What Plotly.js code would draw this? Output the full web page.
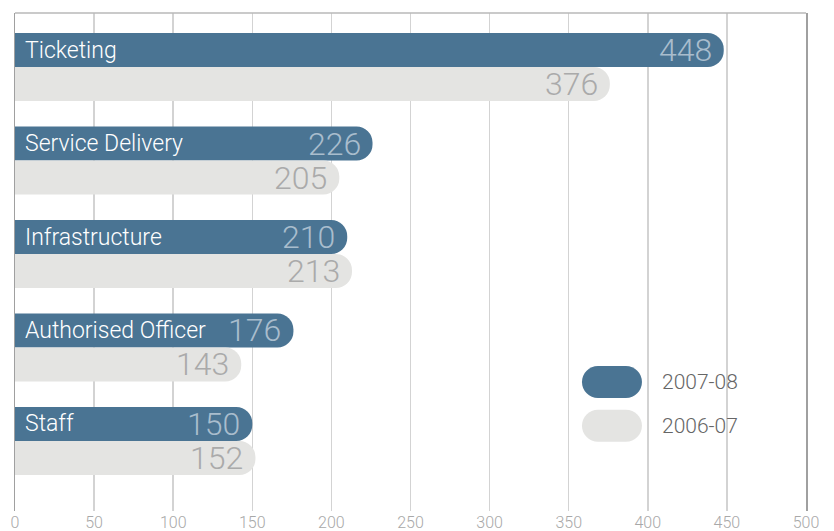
<!DOCTYPE html>
<html>
<head>
<meta charset="utf-8">
<script src="https://cdn.plot.ly/plotly-3.0.1.min.js"></script>
<style>
  html, body { margin: 0; padding: 0; background: #fff; }
  #chart { width: 834px; height: 531px; }
</style>
</head>
<body>
<div id="chart"></div>
<script>
const categories = ['Ticketing', 'Service Delivery', 'Infrastructure', 'Authorised Officer', 'Staff'];
const values0708 = [448, 226, 210, 176, 150];
const values0607 = [376, 205, 213, 143, 152];
const seriesNames = ['2007-08', '2006-07'];
const tickVals = [0, 50, 100, 150, 200, 250, 300, 350, 400, 450, 500];

const DARK = '#4a7493';
const LIGHT = '#e4e4e2';
const FONT = 'Roboto, "DejaVu Sans", sans-serif';

const traces = [
  {
    type: 'bar', orientation: 'h', name: seriesNames[0],
    y: categories, x: values0708,
    marker: { color: DARK, cornerradius: 17, line: { width: 0 } },
    hoverinfo: 'x+name',
  },
  {
    type: 'bar', orientation: 'h', name: seriesNames[1],
    y: categories, x: values0607,
    marker: { color: LIGHT, cornerradius: 17, line: { width: 0 } },
    hoverinfo: 'x+name',
  },
];

// category names sit at the left end of the upper (2007-08) bar
const nameLabels = categories.map(c => ({
  x: 0, y: c, xref: 'x', yref: 'y',
  text: c, showarrow: false,
  xanchor: 'left', yanchor: 'middle', xshift: 8, yshift: 17,
  font: { family: FONT, size: 23, weight: 300, color: '#ffffff' },
}));

// value labels at the rounded end of each bar
const valueLabel = (v, c, shift, color) => ({
  x: v, y: c, xref: 'x', yref: 'y',
  text: String(v), showarrow: false,
  xanchor: 'right', yanchor: 'middle', xshift: -10, yshift: shift,
  font: { family: FONT, size: 32, weight: 300, color: color },
});
const valueLabels = [
  ...categories.map((c, i) => valueLabel(values0708[i], c, 17, '#a9bdcd')),
  ...categories.map((c, i) => valueLabel(values0607[i], c, -17, '#aaaaaa')),
];

// custom pill-shaped legend
const pill = 'M -14,-16 L 14,-16 C 22.8,-16 30,-8.8 30,0 C 30,8.8 22.8,16 14,16 ' +
  'L -14,16 C -22.8,16 -30,8.8 -30,0 C -30,-8.8 -22.8,-16 -14,-16 Z';
const legendRows = [
  { name: seriesNames[0], color: DARK, y: 0.259 },
  { name: seriesNames[1], color: LIGHT, y: 0.171 },
];
const legendShapes = legendRows.map(r => ({
  type: 'path', path: pill,
  xref: 'paper', yref: 'paper', xsizemode: 'pixel', ysizemode: 'pixel',
  xanchor: 0.7547, yanchor: r.y,
  fillcolor: r.color, line: { width: 0 }, layer: 'above',
}));
const legendText = legendRows.map(r => ({
  x: 0.8154, y: r.y, xref: 'paper', yref: 'paper',
  text: r.name, showarrow: false, xanchor: 'left', yanchor: 'middle',
  font: { family: FONT, size: 21, weight: 300, color: '#666666' },
}));

const layout = {
  width: 834, height: 531,
  margin: { l: 15, r: 28, t: 13, b: 20 },
  paper_bgcolor: '#ffffff', plot_bgcolor: '#ffffff',
  barmode: 'group', bargap: 0.273, bargroupgap: 0,
  showlegend: false,
  xaxis: {
    range: [0, 500], tickvals: tickVals, ticks: '',
    showgrid: true, gridcolor: '#d3d3d3', gridwidth: 1.5,
    zeroline: false, showline: false,
    tickfont: { family: FONT, size: 16, weight: 300, color: '#a8a8a8' },
    fixedrange: true,
  },
  yaxis: {
    type: 'category', categoryorder: 'array', categoryarray: categories,
    range: [4.749, -0.578], showticklabels: false, ticks: '',
    showgrid: false, zeroline: false,
    showline: true, mirror: true, linecolor: '#a0a0a0', linewidth: 1.5,
    fixedrange: true,
  },
  shapes: [
    { type: 'line', xref: 'paper', yref: 'paper', x0: 0, x1: 1, y0: 1, y1: 1,
      line: { color: '#b8b8b8', width: 1.5 } },
    ...legendShapes,
  ],
  annotations: [...nameLabels, ...valueLabels, ...legendText],
};

Plotly.newPlot('chart', traces, layout, { displayModeBar: false, staticPlot: true });
</script>
</body>
</html>
